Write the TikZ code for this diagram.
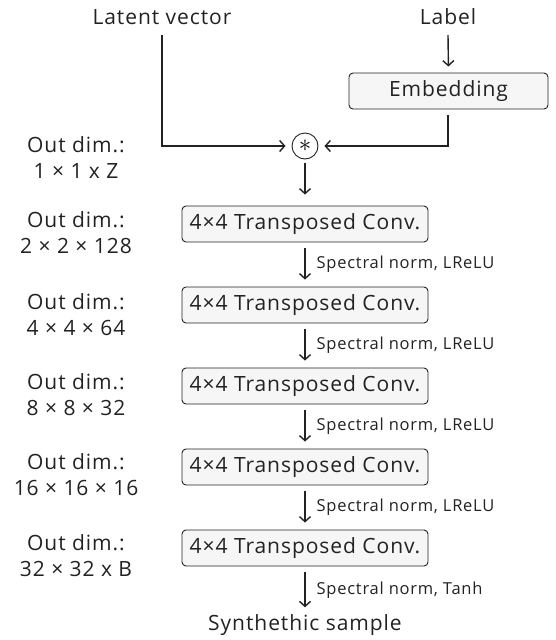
\documentclass[tikz,border=0pt]{standalone}
\usepackage{fontspec}
\setmainfont{Open Sans}
\newfontfamily\mainf[LetterSpace=4.5]{Open Sans}
\usetikzlibrary{arrows.meta}
\definecolor{ink}{HTML}{222222}
\definecolor{boxfill}{HTML}{F6F6F6}
\tikzset{
  x=1pt, y=-1pt,
  txt/.style={inner sep=0pt, text=ink, font=\mainf\fontsize{21}{26}\selectfont, align=center},
  small/.style={inner sep=0pt, text=ink, font=\mainf\fontsize{16.5}{19}\selectfont, anchor=west},
  blk/.style={draw=ink, line width=0.9pt, fill=boxfill, rounded corners=4pt, inner sep=0pt, text=ink, font=\mainf\fontsize{21}{24}\selectfont},
  conv/.style={blk, minimum width=246pt, minimum height=36pt},
  conn/.style={draw=ink, line width=1.4pt, -{Straight Barb[length=5pt,width=11pt,line width=1.4pt]}},
}
\begin{document}
\begin{tikzpicture}
\useasboundingbox (0,0) rectangle (556,640);
\node[txt] (lv) at (162,17) {Latent vector};
\node[txt] (lab) at (448,17) {Label};
\node[blk, minimum width=199pt, minimum height=36pt] (emb) at (448.5,91) {Embedding};
\node[draw=ink, line width=0.9pt, fill=white, circle, minimum size=26pt, inner sep=0pt] (star) at (305,146) {\raisebox{-0.55ex}{\fontsize{24}{24}\selectfont$\ast$}};
\coordinate (lvs) at (162,35);
\coordinate (labs) at (448,35);
\coordinate (embs) at (448,115);

\draw[conn, shorten >=6pt] (labs) -- (emb.north);
\draw[conn, shorten >=6pt] (lvs) |- (star.west);
\draw[conn, shorten >=6pt] (embs) |- (star.east);

\node[conv] (c1) at (305,224) {4×4 Transposed Conv.};
\node[conv] (c2) at (305,305) {4×4 Transposed Conv.};
\node[conv] (c3) at (305,386) {4×4 Transposed Conv.};
\node[conv] (c4) at (305,467) {4×4 Transposed Conv.};
\node[conv] (c5) at (305,548) {4×4 Transposed Conv.};
\node[txt] (out) at (305,625) {Synthethic sample};

\draw[conn, shorten <=4pt, shorten >=11pt] (star) -- (c1);
\foreach \a/\b/\t in {c1/c2/{Spectral norm, LReLU}, c2/c3/{Spectral norm, LReLU}, c3/c4/{Spectral norm, LReLU}, c4/c5/{Spectral norm, LReLU}, c5/out/{Spectral norm, Tanh}}{
  \draw[conn, shorten <=6pt, shorten >=7pt] (\a) -- (\b) node[small, midway, xshift=11pt] {\t};
}

\node[txt] (d0) at (76,158) {Out dim.:\\1 × 1 x Z};
\node[txt] (d1) at (76,233) {Out dim.:\\2 × 2 × 128};
\node[txt] (d2) at (76,315) {Out dim.:\\4 × 4 × 64};
\node[txt] (d3) at (76,395) {Out dim.:\\8 × 8 × 32};
\node[txt] (d4) at (76,475) {Out dim.:\\16 × 16 × 16};
\node[txt] (d5) at (76,556) {Out dim.:\\32 × 32 x B};
\end{tikzpicture}
\end{document}
